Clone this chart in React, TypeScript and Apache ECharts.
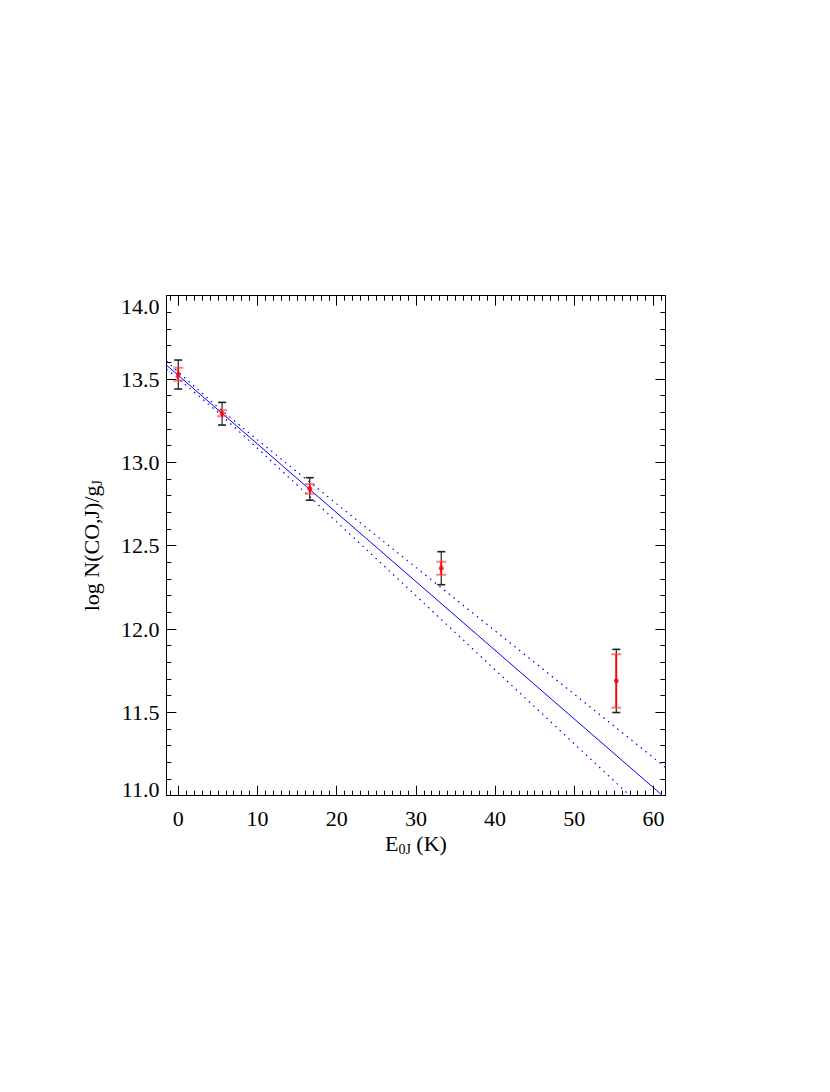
import React, { useEffect, useRef } from 'react';
import * as echarts from 'echarts';

// Data points (E_0J in K, log N(CO,J)/g_J)
const energyK = [0, 5.53, 16.6, 33.2, 55.3];
const logN = [13.528, 13.294, 12.842, 12.365, 11.689];
// Total (black) error bars
const totLow = [13.44, 13.224, 12.773, 12.266, 11.499];
const totHigh = [13.614, 13.36, 12.908, 12.464, 11.878];
// Statistical (red) error bars
const statLow = [13.49, 13.277, 12.812, 12.326, 11.528];
const statHigh = [13.568, 13.3125, 12.87, 12.404, 11.849];

// Linear fit (solid)
const fitX = [-1.5, 61.16];
const fitY = [13.584, 11.0];
// Confidence band (dotted)
const bandX = [-1.5, 0, 5, 10, 20, 30, 40, 50, 61.5];
const bandUpper = [13.608, 13.542, 13.331, 13.135, 12.751, 12.37, 11.989, 11.609, 11.17];
const bandLower = [13.56, 13.502, 13.301, 13.085, 12.643, 12.2, 11.755, 11.311, 10.802];

// Axis ticks
const xMajorTicks = [0, 10, 20, 30, 40, 50, 60];
const xMinorTicks = Array.from({ length: 63 }, (_, i) => i - 1);
const xRange = [-1.5, 61.5];
const yRange = [11, 14];

const FONT = "'Liberation Serif', 'DejaVu Serif', 'Times New Roman', serif";
const BLUE = '#0000ff';

function errorBarRenderer(color: string, capColor: string, lineWidth: number, capWidth: number, capHalf: number) {
  return (params: any, api: any) => {
    const x = api.value(0);
    const lo = api.coord([x, api.value(1)]);
    const hi = api.coord([x, api.value(2)]);
    return {
      type: 'group',
      children: [
        { type: 'line', shape: { x1: lo[0], y1: lo[1], x2: hi[0], y2: hi[1] }, style: { stroke: color, lineWidth } },
        { type: 'line', shape: { x1: hi[0] - capHalf, y1: hi[1], x2: hi[0] + capHalf, y2: hi[1] }, style: { stroke: capColor, lineWidth: capWidth } },
        { type: 'line', shape: { x1: lo[0] - capHalf, y1: lo[1], x2: lo[0] + capHalf, y2: lo[1] }, style: { stroke: capColor, lineWidth: capWidth } },
      ],
    };
  };
}

export default function App() {
  const ref = useRef<HTMLDivElement>(null);
  useEffect(() => {
    if (!ref.current) return;
    const chart = echarts.init(ref.current, undefined, { renderer: 'svg' });
    const axisLineStyle = { color: '#000', width: 1 };
    const baseX = {
      type: 'value',
      min: xRange[0],
      max: xRange[1],
      splitLine: { show: false },
      axisLine: { show: true, onZero: false, lineStyle: axisLineStyle },
    };
    const baseY = {
      type: 'value',
      min: yRange[0],
      max: yRange[1],
      interval: 0.5,
      splitLine: { show: false },
      axisLine: { show: true, onZero: false, lineStyle: axisLineStyle },
      axisTick: { show: true, inside: true, length: 10, lineStyle: axisLineStyle },
      minorTick: { show: true, splitNumber: 5, length: 5, lineStyle: axisLineStyle },
      minorSplitLine: { show: false },
    };
    const option: any = {
      animation: false,
      backgroundColor: '#fff',
      grid: { left: 166.4, top: 295.7, width: 499, height: 500, containLabel: false },
      xAxis: [
        {
          ...baseX,
          position: 'bottom',
          axisTick: { show: true, inside: true, length: 10, customValues: xMajorTicks, lineStyle: axisLineStyle },
          axisLabel: {
            show: true,
            customValues: xMajorTicks,
            fontFamily: FONT,
            fontSize: 22,
            color: '#000',
            margin: 12,
          },
          name: 'E{sub|0J} (K)',
          nameLocation: 'middle',
          nameGap: 37,
          nameTextStyle: {
            fontFamily: FONT,
            fontSize: 22,
            color: '#000',
            rich: {
              sub: { fontFamily: FONT, fontSize: 14, color: '#000', lineHeight: 14, padding: [12, 0, 0, 0] },
            },
          },
        },
        {
          ...baseX,
          position: 'bottom',
          axisLine: { show: false, onZero: false },
          axisTick: { show: true, inside: true, length: 5, customValues: xMinorTicks, lineStyle: axisLineStyle },
          axisLabel: { show: false },
        },
        {
          ...baseX,
          position: 'top',
          axisTick: { show: true, inside: true, length: 10, customValues: xMajorTicks, lineStyle: axisLineStyle },
          axisLabel: { show: false },
        },
        {
          ...baseX,
          position: 'top',
          axisLine: { show: false, onZero: false },
          axisTick: { show: true, inside: true, length: 5, customValues: xMinorTicks, lineStyle: axisLineStyle },
          axisLabel: { show: false },
        },
      ],
      yAxis: [
        {
          ...baseY,
          position: 'left',
          axisLabel: {
            show: true,
            fontFamily: FONT,
            fontSize: 22,
            color: '#000',
            margin: 7,
            formatter: (v: number) => (v === yRange[0] ? '{lo|' + v.toFixed(1) + '}' : v.toFixed(1)),
            rich: {
              lo: { fontFamily: FONT, fontSize: 22, color: '#000', lineHeight: 12 },
            },
            verticalAlignMinLabel: 'bottom',
            verticalAlignMaxLabel: 'top',
          },
          name: 'log N(CO,J)/g{sub|J}',
          nameLocation: 'middle',
          nameRotate: 90,
          nameGap: 64,
          nameTextStyle: {
            fontFamily: FONT,
            fontSize: 22,
            color: '#000',
            rich: {
              sub: { fontFamily: FONT, fontSize: 14, color: '#000', lineHeight: 14, padding: [12, 0, 0, 0] },
            },
          },
        },
        {
          ...baseY,
          position: 'right',
          axisLabel: { show: false },
        },
      ],
      series: [
        {
          type: 'line',
          data: fitX.map((x, i) => [x, fitY[i]]),
          showSymbol: false,
          symbol: 'none',
          lineStyle: { color: BLUE, width: 1 },
          silent: true,
          clip: true,
          z: 2,
        },
        {
          type: 'line',
          data: bandX.map((x, i) => [x, bandUpper[i]]),
          showSymbol: false,
          symbol: 'none',
          lineStyle: { color: BLUE, width: 1.2, type: [1.5, 4.5] },
          silent: true,
          clip: true,
          z: 2,
        },
        {
          type: 'line',
          data: bandX.map((x, i) => [x, bandLower[i]]),
          showSymbol: false,
          symbol: 'none',
          lineStyle: { color: BLUE, width: 1.2, type: [1.5, 4.5] },
          silent: true,
          clip: true,
          z: 2,
        },
        {
          type: 'custom',
          renderItem: errorBarRenderer('#222', '#222', 1.2, 1.6, 4),
          data: energyK.map((x, i) => [x, totLow[i], totHigh[i]]),
          encode: { x: 0, y: [1, 2] },
          silent: true,
          z: 3,
        },
        {
          type: 'custom',
          renderItem: errorBarRenderer('#ff0000', 'rgba(255,60,60,0.65)', 1.8, 2, 5),
          data: energyK.map((x, i) => [x, statLow[i], statHigh[i]]),
          encode: { x: 0, y: [1, 2] },
          silent: true,
          z: 4,
        },
        {
          type: 'scatter',
          data: energyK.map((x, i) => [x, logN[i]]),
          symbol: 'circle',
          symbolSize: 5,
          itemStyle: { color: '#ff0000' },
          silent: true,
          z: 5,
        },
      ],
    };
    chart.setOption(option);
    return () => chart.dispose();
  }, []);
  return (
    <div
      ref={ref}
      style={{ position: 'absolute', left: 0, top: 0, width: 830, height: 1092, background: '#fff' }}
    />
  );
}
